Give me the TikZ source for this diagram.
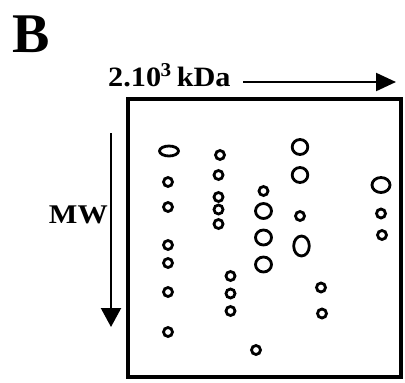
\documentclass[tikz,border=0pt]{standalone}
\usepackage{fontspec}
\setmainfont{Liberation Serif}[BoldFont={Liberation Serif Bold}]
\usetikzlibrary{arrows.meta}
\begin{document}
\begin{tikzpicture}[x=1pt,y=-1pt,
  spot/.style={line width=2.8pt},
  axisarrow/.style={line width=2.2pt,-{Triangle[length=20pt,width=18pt]}},
  lbl/.style={inner sep=0pt,font=\bfseries}]
\useasboundingbox (0,0) rectangle (405,383);
% panel letter
\node[lbl,anchor=base west,font=\fontsize{56}{56}\selectfont\bfseries] (B) at (12,52) {B};
% top label and arrow
\node[lbl,anchor=base west,xscale=1.08,font=\fontsize{28}{28}\selectfont\bfseries] (kda) at (108,86) {2.10\kern-0.5pt\textsuperscript{3}\,kDa};
\coordinate (ta) at (243,82);
\coordinate (tb) at (396,82);
\draw[axisarrow] (ta) -- (tb);
% left label and arrow
\node[lbl,anchor=base east,xscale=1.12,font=\fontsize{27}{27}\selectfont\bfseries] (mw) at (108,223) {MW};
\coordinate (la) at (111,133);
\coordinate (lb) at (111,327);
\draw[axisarrow,-{Triangle[length=19pt,width=20pt]}] (la) -- (lb);
% box
\draw[line width=3.6pt] (128,99) rectangle (401,377);
% column 1
\draw[spot] (169,151) ellipse [x radius=9.5,y radius=5];
\foreach \y in {182,207,245,263,292,332} \draw[spot] (168,\y) circle (4.5);
% column 2
\draw[spot] (220,155) circle (4.5);
\foreach \y in {175,197,209.5,224} \draw[spot] (218.5,\y) circle (4.5);
\foreach \y in {276,293.5,311} \draw[spot] (230.5,\y) circle (4.5);
% column 3
\draw[spot] (263.5,191) circle (4.5);
\foreach \y in {211,237.5,264.5} \draw[spot] (263.5,\y) ellipse [x radius=8,y radius=7.5];
\draw[spot] (256,350) circle (4.5);
% column 4
\draw[spot] (300,147) ellipse [x radius=7.8,y radius=7.5];
\draw[spot] (300,175) ellipse [x radius=7.8,y radius=7.5];
\draw[spot] (300,216) circle (4.5);
\draw[spot] (301.5,246) ellipse [x radius=7.8,y radius=10];
\draw[spot] (321,287.5) circle (4.5);
\draw[spot] (322,313.5) circle (4.5);
% column 5
\draw[spot] (381,185) ellipse [x radius=9,y radius=7.5];
\draw[spot] (381,213.5) circle (4.5);
\draw[spot] (382,235) circle (4.5);
\end{tikzpicture}
\end{document}
